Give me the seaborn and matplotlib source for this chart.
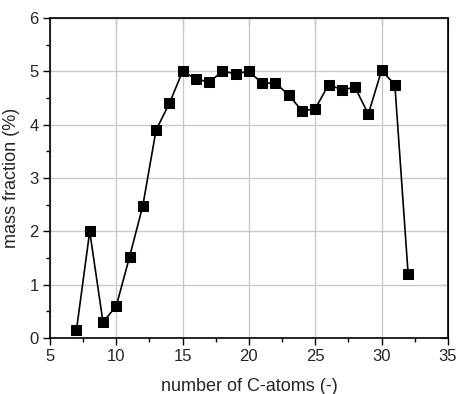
import matplotlib
matplotlib.use("Agg")
import matplotlib.pyplot as plt
import pandas as pd
import seaborn as sns
from matplotlib.ticker import MultipleLocator, NullLocator

carbon_atoms = [7, 8, 9, 10, 11, 12, 13, 14, 15, 16, 17, 18, 19, 20,
                21, 22, 23, 24, 25, 26, 27, 28, 29, 30, 31, 32]
mass_fraction = [0.15, 2.0, 0.3, 0.6, 1.52, 2.48, 3.9, 4.4, 5.0, 4.86, 4.8, 5.0, 4.96, 5.0,
                 4.78, 4.78, 4.56, 4.26, 4.3, 4.75, 4.66, 4.7, 4.2, 5.02, 4.75, 1.2]

df = pd.DataFrame({"n": carbon_atoms, "w": mass_fraction})

sns.set_style("ticks")
plt.rcParams["font.family"] = ["Liberation Sans", "DejaVu Sans"]

fig = plt.figure(figsize=(4.58, 3.94), dpi=100)
ax = fig.add_axes([0.109, 0.142, 0.869, 0.812])

sns.lineplot(data=df, x="n", y="w", ax=ax, color="black", linewidth=1.2,
             marker="s", markersize=6.5, markeredgecolor="black",
             markerfacecolor="black", zorder=3)

ax.set_xlim(5, 35)
ax.set_ylim(0, 6)
ax.xaxis.set_major_locator(MultipleLocator(5))
ax.xaxis.set_minor_locator(MultipleLocator(2.5))
ax.yaxis.set_major_locator(MultipleLocator(1))
ax.yaxis.set_minor_locator(MultipleLocator(0.5))
ax.grid(which="major", color="#c8c8c8", linewidth=1.0)
ax.set_axisbelow(True)
ax.tick_params(which="both", direction="out", labelsize=12, width=1,
               color="black", pad=3)
ax.tick_params(which="major", length=5)
ax.tick_params(which="minor", length=3)
for s in ax.spines.values():
    s.set_linewidth(1.2)
    s.set_color("black")

# mirrored inward major ticks on top and right
top = ax.secondary_xaxis("top")
top.xaxis.set_major_locator(MultipleLocator(5))
top.xaxis.set_minor_locator(NullLocator())
top.tick_params(direction="in", length=5, labeltop=False)
right = ax.secondary_yaxis("right")
right.yaxis.set_major_locator(MultipleLocator(1))
right.yaxis.set_minor_locator(NullLocator())
right.tick_params(direction="in", length=5, labelright=False)

ax.set_xlabel("number of C-atoms (-)", fontsize=13, labelpad=10)
ax.set_ylabel("mass fraction (%)", fontsize=13, labelpad=7)

fig.savefig("out.png", dpi=100)
